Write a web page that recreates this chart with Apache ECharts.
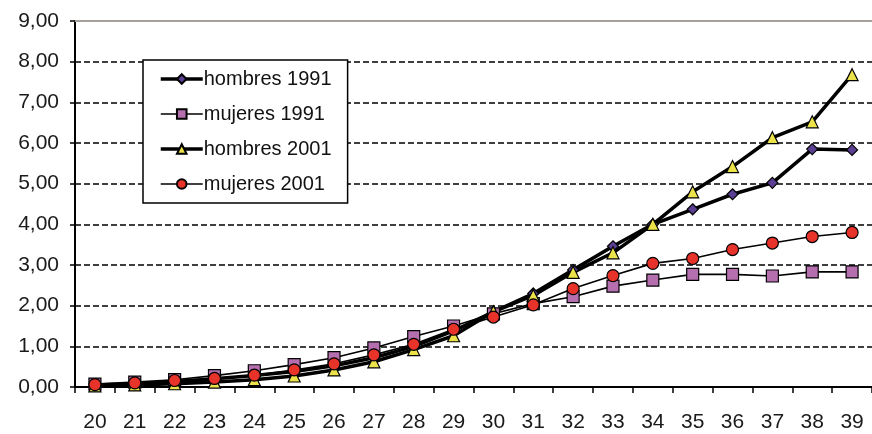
<!DOCTYPE html>
<html>
<head>
<meta charset="utf-8">
<script src="https://cdn.jsdelivr.net/npm/echarts@6/dist/echarts.min.js"></script>
<style>html,body{margin:0;padding:0;background:#fff}#c{width:872px;height:434px}</style>
</head>
<body>
<div id="c"></div>
<script>
const categories = ['20','21','22','23','24','25','26','27','28','29','30','31','32','33','34','35','36','37','38','39'];
const hombres1991 = [0.05,0.08,0.13,0.20,0.28,0.38,0.52,0.72,1.00,1.38,1.85,2.30,2.88,3.46,4.00,4.37,4.74,5.02,5.85,5.83];
const mujeres1991 = [0.07,0.12,0.18,0.28,0.40,0.55,0.72,0.96,1.24,1.50,1.80,2.05,2.22,2.48,2.63,2.77,2.77,2.73,2.83,2.83];
const hombres2001 = [0.03,0.05,0.08,0.12,0.18,0.27,0.42,0.62,0.92,1.26,1.85,2.25,2.82,3.30,4.00,4.80,5.42,6.13,6.52,7.68];
const mujeres2001 = [0.06,0.10,0.16,0.21,0.29,0.42,0.57,0.79,1.05,1.42,1.72,2.02,2.42,2.74,3.04,3.16,3.38,3.54,3.70,3.80];
const seriesNames = ['hombres 1991','mujeres 1991','hombres 2001','mujeres 2001'];

const font = 'Liberation Sans, Arial, sans-serif';
const widths = [3.5, 1.6, 3.5, 1.6];
function mk(name, data, symbol, color, width, size) {
  return {
    name, type: 'line', data, symbol, symbolSize: size,
    lineStyle: { color: '#000', width },
    itemStyle: { color, borderColor: '#000', borderWidth: 1.2 },
    emphasis: { disabled: true },
    animation: false
  };
}
const chart = echarts.init(document.getElementById('c'), null, { renderer: 'canvas' });
chart.setOption({
  backgroundColor: '#fff',
  animation: false,
  grid: { left: 75, right: 0, top: 21, bottom: 47 },
  legend: {
    orient: 'vertical', left: 143, top: 60,
    data: seriesNames.map((n, i) => ({ name: n, lineStyle: { width: widths[i], color: '#000' } })),
    itemWidth: 42, itemHeight: 12, itemGap: 15,
    padding: [9, 16, 9, 16],
    borderColor: '#000', borderWidth: 1.5, backgroundColor: '#fff',
    textStyle: { fontFamily: font, fontSize: 20, color: '#111', padding: [0,0,0,-4] }
  },
  xAxis: [{
    type: 'category', data: categories, boundaryGap: true,
    axisLine: { lineStyle: { color: '#000', width: 2 } },
    axisTick: { show: true, length: 6, lineStyle: { color: '#000', width: 1.5 } },
    axisLabel: { fontFamily: font, fontSize: 21, color: '#1a1a1a', margin: 25 },
    splitLine: { show: false }
  }, {
    type: 'category', data: categories, position: 'top',
    axisLine: { lineStyle: { color: '#a8a09a', width: 2 } },
    axisTick: { show: false }, axisLabel: { show: false }, splitLine: { show: false }
  }],
  yAxis: {
    type: 'value', min: 0, max: 9, interval: 1,
    axisLine: { show: true, lineStyle: { color: '#000', width: 2 } },
    axisTick: { show: true, length: 5, lineStyle: { color: '#000', width: 1.5 } },
    axisLabel: { fontFamily: font, fontSize: 21, color: '#1a1a1a', margin: 16,
      formatter: v => v.toFixed(2).replace('.', ',') },
    splitLine: { show: true, lineStyle: { color: '#000', type: [6, 3], width: 1.5 } }
  },
  series: [
    mk(seriesNames[0], hombres1991, 'diamond', '#5b3f92', widths[0], 11),
    mk(seriesNames[1], mujeres1991, 'rect', '#b56fae', widths[1], 12),
    mk(seriesNames[2], hombres2001, 'triangle', '#ece24a', widths[2], 12),
    mk(seriesNames[3], mujeres2001, 'circle', '#e8332a', widths[3], 12)
  ]
});
</script>
</body>
</html>
